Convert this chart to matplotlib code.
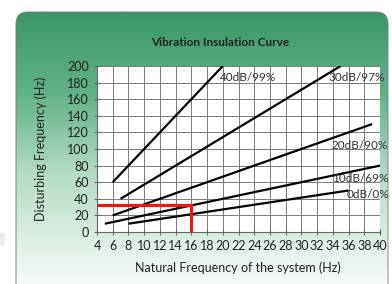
import matplotlib.pyplot as plt
import numpy as np
from matplotlib.patches import FancyBboxPatch, Rectangle
from matplotlib.colors import LinearSegmentedColormap

plt.rcParams['font.family'] = ['Lato', 'DejaVu Sans']

# curves: (natural freq start/end, disturbing freq start/end)
labels = ["40dB/99%", "30dB/97%", "20dB/90%", "10dB/69%", "0dB/0%"]
x_start = [6, 7, 6, 5, 8]
x_end = [20, 35, 39, 40, 36]
y_start = [60, 40, 20, 10, 10]
y_end = [200, 200, 130, 80, 50]
label_x = [19.7, 33.5, 33.8, 33.9, 35.7]
label_y = [186, 186, 104, 65, 45]

# red example
red_x = [4, 16, 16]
red_y = [33, 33, 0]

xticks = list(range(4, 41, 2))
yticks = list(range(0, 201, 20))

fig = plt.figure(figsize=(3.92, 2.84), dpi=100)

# background card with green gradient
bg = fig.add_axes([0, 0, 1, 1])
bg.set_xlim(0, 392)
bg.set_ylim(284, 0)
bg.axis('off')
cmap = LinearSegmentedColormap.from_list(
    'card', [(0, '#3a9767'), (0.3, '#62b287'), (0.6, '#b6dcc5'), (1, '#f6fbf8')])
grad = np.linspace(0, 1, 256).reshape(-1, 1)
im = bg.imshow(grad, cmap=cmap, aspect='auto', extent=(16, 392, 284, 12))
card = FancyBboxPatch((16, 12), 372, 300, boxstyle="round,pad=0,rounding_size=12",
                      facecolor='none', edgecolor='#777777', linewidth=0.6)
bg.add_patch(card)
im.set_clip_path(card)
bg.add_patch(Rectangle((0, 233), 5, 13, facecolor='#eeeeee', edgecolor='none'))

ax = fig.add_axes([97 / 392, 1 - 232 / 284, 283 / 392, 166 / 284])
ax.set_facecolor('white')
for i in range(len(labels)):
    ax.plot([x_start[i], x_end[i]], [y_start[i], y_end[i]], color='black', lw=1.6,
            solid_capstyle='butt')
    ax.text(label_x[i], label_y[i], labels[i], fontsize=8.5, color='#333333',
            va='center', ha='left')
ax.plot(red_x, red_y, color='#ff1010', lw=2.2, solid_joinstyle='miter')

ax.set_xlim(4, 40)
ax.set_ylim(0, 200)
ax.set_xticks(xticks)
ax.set_yticks(yticks)
ax.grid(True, color='#7a7a7a', lw=0.7)
ax.set_axisbelow(True)
for s in ['top', 'right']:
    ax.spines[s].set_visible(False)
for s in ['left', 'bottom']:
    ax.spines[s].set_color('#666666')
    ax.spines[s].set_linewidth(0.8)
ax.tick_params(direction='inout', length=4, width=0.8, color='#666666',
               labelsize=9, labelcolor='#222222', pad=4)

fig.text(220 / 392, 1 - 42 / 284, "Vibration Insulation Curve", fontsize=8.5,
         fontweight='bold', ha='center', va='center', color='#222222')
fig.text(238 / 392, 1 - 268 / 284, "Natural Frequency of the system (Hz)",
         fontsize=9, ha='center', va='center', color='#222222')
fig.text(41 / 392, 1 - 149 / 284, "Disturbing Frequency (Hz)", fontsize=9,
         rotation=90, ha='center', va='center', color='#222222')

fig.savefig('out.png', dpi=100, facecolor='white')
